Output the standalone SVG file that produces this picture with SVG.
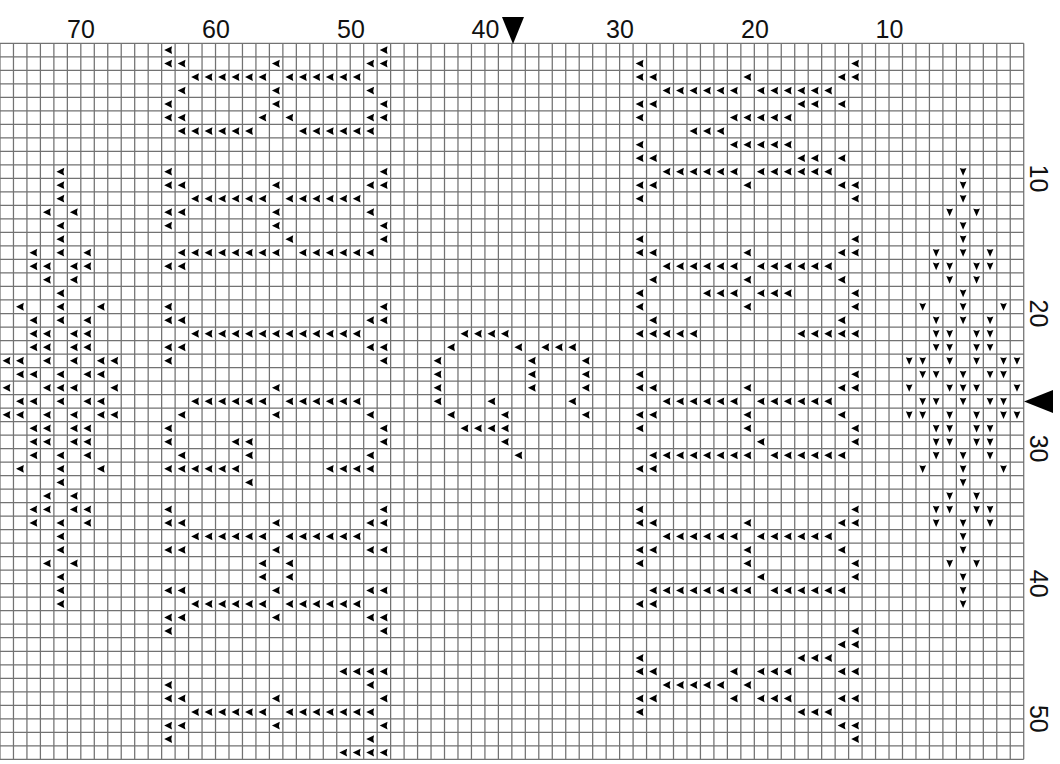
<svg xmlns="http://www.w3.org/2000/svg" xmlns:xlink="http://www.w3.org/1999/xlink" width="1060" height="764" viewBox="0 0 1060 764">
<style>
.lbl{font-family:"Liberation Sans",Arial,sans-serif;font-size:25px;fill:#111;text-anchor:middle}
.grid{fill:none;stroke:#727272;stroke-width:1.25}
.mk{fill:#000}
</style>
<defs>
<path id="L" d="M-0.31 0 L0.27 -0.29 Q0.16 0 0.27 0.29 Z" fill="#000"/>
<path id="D" d="M0 0.3 L-0.25 -0.27 Q0 -0.15 0.25 -0.27 Z" fill="#000"/>
<g id="R3"><use href="#L"/><use href="#L" x="1"/><use href="#L" x="2"/></g>
<g id="R4"><use href="#R3"/><use href="#L" x="3"/></g>
<g id="R5"><use href="#R4"/><use href="#L" x="4"/></g>
<g id="R6"><use href="#R5"/><use href="#L" x="5"/></g>
<g id="R7"><use href="#R6"/><use href="#L" x="6"/></g>
<g id="R8"><use href="#R7"/><use href="#L" x="7"/></g>
<g id="R13"><use href="#R6"/><use href="#R7" x="6"/></g>
</defs>
<rect width="1060" height="764" fill="#fff"/>
<g id="grid" transform="translate(0 43.3) scale(13.47 13.51)">
<path class="grid" vector-effect="non-scaling-stroke" d="M0 0V53M1 0V53M2 0V53M3 0V53M4 0V53M5 0V53M6 0V53M7 0V53M8 0V53M9 0V53M10 0V53M11 0V53M12 0V53M13 0V53M14 0V53M15 0V53M16 0V53M17 0V53M18 0V53M19 0V53M20 0V53M21 0V53M22 0V53M23 0V53M24 0V53M25 0V53M26 0V53M27 0V53M28 0V53M29 0V53M30 0V53M31 0V53M32 0V53M33 0V53M34 0V53M35 0V53M36 0V53M37 0V53M38 0V53M39 0V53M40 0V53M41 0V53M42 0V53M43 0V53M44 0V53M45 0V53M46 0V53M47 0V53M48 0V53M49 0V53M50 0V53M51 0V53M52 0V53M53 0V53M54 0V53M55 0V53M56 0V53M57 0V53M58 0V53M59 0V53M60 0V53M61 0V53M62 0V53M63 0V53M64 0V53M65 0V53M66 0V53M67 0V53M68 0V53M69 0V53M70 0V53M71 0V53M72 0V53M73 0V53M74 0V53M75 0V53M76 0V53M0 0H76M0 1H76M0 2H76M0 3H76M0 4H76M0 5H76M0 6H76M0 7H76M0 8H76M0 9H76M0 10H76M0 11H76M0 12H76M0 13H76M0 14H76M0 15H76M0 16H76M0 17H76M0 18H76M0 19H76M0 20H76M0 21H76M0 22H76M0 23H76M0 24H76M0 25H76M0 26H76M0 27H76M0 28H76M0 29H76M0 30H76M0 31H76M0 32H76M0 33H76M0 34H76M0 35H76M0 36H76M0 37H76M0 38H76M0 39H76M0 40H76M0 41H76M0 42H76M0 43H76M0 44H76M0 45H76M0 46H76M0 47H76M0 48H76M0 49H76M0 50H76M0 51H76M0 52H76M0 53H76"/>
</g>
<g id="labels">
<text class="lbl" x="81" y="38.3">70</text>
<text class="lbl" x="216" y="38.3">60</text>
<text class="lbl" x="351" y="38.3">50</text>
<text class="lbl" x="485.5" y="38.3">40</text>
<text class="lbl" x="620" y="38.3">30</text>
<text class="lbl" x="755" y="38.3">20</text>
<text class="lbl" x="889.5" y="38.3">10</text>
<text class="lbl" transform="translate(1030 178.4) rotate(90)">10</text>
<text class="lbl" transform="translate(1030 313.5) rotate(90)">20</text>
<text class="lbl" transform="translate(1030 448.6) rotate(90)">30</text>
<text class="lbl" transform="translate(1030 583.7) rotate(90)">40</text>
<text class="lbl" transform="translate(1030 718.8) rotate(90)">50</text>
</g>
<g id="markers">
<polygon class="mk" points="502,17 524,17 513,44"/>
<polygon class="mk" points="1024,401.5 1053,390 1053,413"/>
</g>
<g id="chart" transform="translate(6.735 50.055) scale(13.47 13.51)">
<g id="flake-left">
<use href="#L" x="4" y="9"/><use href="#L" x="4" y="10"/><use href="#L" x="4" y="11"/>
<use href="#L" x="3" y="12"/><use href="#L" x="5" y="12"/>
<use href="#L" x="4" y="13"/><use href="#L" x="4" y="14"/>
<use href="#L" x="2" y="15"/><use href="#L" x="4" y="15"/><use href="#L" x="6" y="15"/>
<use href="#L" x="2" y="16"/><use href="#L" x="3" y="16"/><use href="#L" x="5" y="16"/><use href="#L" x="6" y="16"/>
<use href="#L" x="3" y="17"/><use href="#L" x="5" y="17"/>
<use href="#L" x="4" y="18"/>
<use href="#L" x="1" y="19"/><use href="#L" x="4" y="19"/><use href="#L" x="7" y="19"/>
<use href="#L" x="2" y="20"/><use href="#L" x="4" y="20"/><use href="#L" x="6" y="20"/>
<use href="#L" x="2" y="21"/><use href="#L" x="3" y="21"/><use href="#L" x="5" y="21"/><use href="#L" x="6" y="21"/>
<use href="#L" x="2" y="22"/><use href="#L" x="3" y="22"/><use href="#L" x="5" y="22"/><use href="#L" x="6" y="22"/>
<use href="#L" x="0" y="23"/><use href="#L" x="1" y="23"/><use href="#L" x="3" y="23"/><use href="#L" x="5" y="23"/><use href="#L" x="7" y="23"/><use href="#L" x="8" y="23"/>
<use href="#L" x="1" y="24"/><use href="#L" x="2" y="24"/><use href="#L" x="4" y="24"/><use href="#L" x="6" y="24"/><use href="#L" x="7" y="24"/>
<use href="#L" x="0" y="25"/><use href="#L" x="3" y="25"/><use href="#L" x="4" y="25"/><use href="#L" x="5" y="25"/><use href="#L" x="8" y="25"/>
<use href="#L" x="1" y="26"/><use href="#L" x="2" y="26"/><use href="#L" x="4" y="26"/><use href="#L" x="6" y="26"/><use href="#L" x="7" y="26"/>
<use href="#L" x="0" y="27"/><use href="#L" x="1" y="27"/><use href="#L" x="3" y="27"/><use href="#L" x="5" y="27"/><use href="#L" x="7" y="27"/><use href="#L" x="8" y="27"/>
<use href="#L" x="2" y="28"/><use href="#L" x="3" y="28"/><use href="#L" x="5" y="28"/><use href="#L" x="6" y="28"/>
<use href="#L" x="2" y="29"/><use href="#L" x="3" y="29"/><use href="#L" x="5" y="29"/><use href="#L" x="6" y="29"/>
<use href="#L" x="2" y="30"/><use href="#L" x="4" y="30"/><use href="#L" x="6" y="30"/>
<use href="#L" x="1" y="31"/><use href="#L" x="4" y="31"/><use href="#L" x="7" y="31"/>
<use href="#L" x="4" y="32"/>
<use href="#L" x="3" y="33"/><use href="#L" x="5" y="33"/>
<use href="#L" x="2" y="34"/><use href="#L" x="3" y="34"/><use href="#L" x="5" y="34"/><use href="#L" x="6" y="34"/>
<use href="#L" x="2" y="35"/><use href="#L" x="4" y="35"/><use href="#L" x="6" y="35"/>
<use href="#L" x="4" y="36"/><use href="#L" x="4" y="37"/>
<use href="#L" x="3" y="38"/><use href="#L" x="5" y="38"/>
<use href="#L" x="4" y="39"/><use href="#L" x="4" y="40"/><use href="#L" x="4" y="41"/>
</g>
<g id="flake-right" transform="translate(67 0)">
<use href="#D" x="4" y="9"/><use href="#D" x="4" y="10"/><use href="#D" x="4" y="11"/>
<use href="#D" x="3" y="12"/><use href="#D" x="5" y="12"/>
<use href="#D" x="4" y="13"/><use href="#D" x="4" y="14"/>
<use href="#D" x="2" y="15"/><use href="#D" x="4" y="15"/><use href="#D" x="6" y="15"/>
<use href="#D" x="2" y="16"/><use href="#D" x="3" y="16"/><use href="#D" x="5" y="16"/><use href="#D" x="6" y="16"/>
<use href="#D" x="3" y="17"/><use href="#D" x="5" y="17"/>
<use href="#D" x="4" y="18"/>
<use href="#D" x="1" y="19"/><use href="#D" x="4" y="19"/><use href="#D" x="7" y="19"/>
<use href="#D" x="2" y="20"/><use href="#D" x="4" y="20"/><use href="#D" x="6" y="20"/>
<use href="#D" x="2" y="21"/><use href="#D" x="3" y="21"/><use href="#D" x="5" y="21"/><use href="#D" x="6" y="21"/>
<use href="#D" x="2" y="22"/><use href="#D" x="3" y="22"/><use href="#D" x="5" y="22"/><use href="#D" x="6" y="22"/>
<use href="#D" x="0" y="23"/><use href="#D" x="1" y="23"/><use href="#D" x="3" y="23"/><use href="#D" x="5" y="23"/><use href="#D" x="7" y="23"/><use href="#D" x="8" y="23"/>
<use href="#D" x="1" y="24"/><use href="#D" x="2" y="24"/><use href="#D" x="4" y="24"/><use href="#D" x="6" y="24"/><use href="#D" x="7" y="24"/>
<use href="#D" x="0" y="25"/><use href="#D" x="3" y="25"/><use href="#D" x="4" y="25"/><use href="#D" x="5" y="25"/><use href="#D" x="8" y="25"/>
<use href="#D" x="1" y="26"/><use href="#D" x="2" y="26"/><use href="#D" x="4" y="26"/><use href="#D" x="6" y="26"/><use href="#D" x="7" y="26"/>
<use href="#D" x="0" y="27"/><use href="#D" x="1" y="27"/><use href="#D" x="3" y="27"/><use href="#D" x="5" y="27"/><use href="#D" x="7" y="27"/><use href="#D" x="8" y="27"/>
<use href="#D" x="2" y="28"/><use href="#D" x="3" y="28"/><use href="#D" x="5" y="28"/><use href="#D" x="6" y="28"/>
<use href="#D" x="2" y="29"/><use href="#D" x="3" y="29"/><use href="#D" x="5" y="29"/><use href="#D" x="6" y="29"/>
<use href="#D" x="2" y="30"/><use href="#D" x="4" y="30"/><use href="#D" x="6" y="30"/>
<use href="#D" x="1" y="31"/><use href="#D" x="4" y="31"/><use href="#D" x="7" y="31"/>
<use href="#D" x="4" y="32"/>
<use href="#D" x="3" y="33"/><use href="#D" x="5" y="33"/>
<use href="#D" x="2" y="34"/><use href="#D" x="3" y="34"/><use href="#D" x="5" y="34"/><use href="#D" x="6" y="34"/>
<use href="#D" x="2" y="35"/><use href="#D" x="4" y="35"/><use href="#D" x="6" y="35"/>
<use href="#D" x="4" y="36"/><use href="#D" x="4" y="37"/>
<use href="#D" x="3" y="38"/><use href="#D" x="5" y="38"/>
<use href="#D" x="4" y="39"/><use href="#D" x="4" y="40"/><use href="#D" x="4" y="41"/>
</g>
<g id="block-left">
<use href="#L" x="12" y="0"/><use href="#L" x="28" y="0"/>
<use href="#L" x="12" y="1"/><use href="#L" x="13" y="1"/><use href="#L" x="20" y="1"/><use href="#L" x="27" y="1"/><use href="#L" x="28" y="1"/>
<use href="#R6" x="14" y="2"/><use href="#R6" x="21" y="2"/>
<use href="#L" x="13" y="3"/><use href="#L" x="20" y="3"/><use href="#L" x="27" y="3"/>
<use href="#L" x="12" y="4"/><use href="#L" x="20" y="4"/><use href="#L" x="28" y="4"/>
<use href="#L" x="12" y="5"/><use href="#L" x="13" y="5"/><use href="#L" x="19" y="5"/><use href="#L" x="21" y="5"/><use href="#L" x="27" y="5"/><use href="#L" x="28" y="5"/>
<use href="#R6" x="13" y="6"/><use href="#R6" x="22" y="6"/>
<use href="#L" x="12" y="9"/><use href="#L" x="28" y="9"/>
<use href="#L" x="12" y="10"/><use href="#L" x="13" y="10"/><use href="#L" x="20" y="10"/><use href="#L" x="27" y="10"/><use href="#L" x="28" y="10"/>
<use href="#R6" x="14" y="11"/><use href="#R6" x="21" y="11"/>
<use href="#L" x="12" y="12"/><use href="#L" x="13" y="12"/><use href="#L" x="20" y="12"/><use href="#L" x="27" y="12"/>
<use href="#L" x="12" y="13"/><use href="#L" x="20" y="13"/><use href="#L" x="28" y="13"/>
<use href="#L" x="21" y="14"/><use href="#L" x="28" y="14"/>
<use href="#R8" x="13" y="15"/><use href="#R6" x="22" y="15"/>
<use href="#L" x="12" y="16"/><use href="#L" x="13" y="16"/>
<use href="#L" x="12" y="19"/><use href="#L" x="28" y="19"/>
<use href="#L" x="12" y="20"/><use href="#L" x="13" y="20"/><use href="#L" x="27" y="20"/><use href="#L" x="28" y="20"/>
<use href="#R13" x="14" y="21"/>
<use href="#L" x="12" y="22"/><use href="#L" x="13" y="22"/><use href="#L" x="27" y="22"/><use href="#L" x="28" y="22"/>
<use href="#L" x="12" y="23"/><use href="#L" x="28" y="23"/>
<use href="#L" x="20" y="25"/>
<use href="#R6" x="14" y="26"/><use href="#R6" x="21" y="26"/>
<use href="#L" x="13" y="27"/><use href="#L" x="20" y="27"/><use href="#L" x="27" y="27"/>
<use href="#L" x="12" y="28"/><use href="#L" x="28" y="28"/>
<use href="#L" x="12" y="29"/><use href="#L" x="17" y="29"/><use href="#L" x="18" y="29"/><use href="#L" x="28" y="29"/>
<use href="#L" x="13" y="30"/><use href="#L" x="18" y="30"/><use href="#L" x="27" y="30"/>
<use href="#R6" x="12" y="31"/><use href="#R4" x="24" y="31"/>
<use href="#L" x="18" y="32"/>
<use href="#L" x="12" y="34"/><use href="#L" x="28" y="34"/>
<use href="#L" x="12" y="35"/><use href="#L" x="13" y="35"/><use href="#L" x="20" y="35"/><use href="#L" x="27" y="35"/><use href="#L" x="28" y="35"/>
<use href="#R6" x="14" y="36"/><use href="#R6" x="21" y="36"/>
<use href="#L" x="12" y="37"/><use href="#L" x="13" y="37"/><use href="#L" x="20" y="37"/><use href="#L" x="27" y="37"/><use href="#L" x="28" y="37"/>
<use href="#L" x="19" y="38"/><use href="#L" x="21" y="38"/>
<use href="#L" x="19" y="39"/><use href="#L" x="21" y="39"/>
<use href="#L" x="12" y="40"/><use href="#L" x="13" y="40"/><use href="#L" x="20" y="40"/><use href="#L" x="27" y="40"/><use href="#L" x="28" y="40"/>
<use href="#R6" x="14" y="41"/><use href="#R6" x="21" y="41"/>
<use href="#L" x="12" y="42"/><use href="#L" x="13" y="42"/><use href="#L" x="20" y="42"/><use href="#L" x="27" y="42"/><use href="#L" x="28" y="42"/>
<use href="#L" x="12" y="43"/><use href="#L" x="28" y="43"/>
<use href="#R4" x="25" y="46"/>
<use href="#L" x="12" y="47"/><use href="#L" x="27" y="47"/>
<use href="#L" x="12" y="48"/><use href="#L" x="13" y="48"/><use href="#L" x="20" y="48"/><use href="#L" x="28" y="48"/>
<use href="#R6" x="14" y="49"/><use href="#R7" x="21" y="49"/>
<use href="#L" x="12" y="50"/><use href="#L" x="13" y="50"/><use href="#L" x="20" y="50"/><use href="#L" x="28" y="50"/>
<use href="#L" x="12" y="51"/><use href="#L" x="27" y="51"/>
<use href="#R4" x="25" y="52"/>
</g>
<g id="motif-middle">
<use href="#R4" x="34" y="21"/>
<use href="#L" x="33" y="22"/><use href="#L" x="38" y="22"/><use href="#R3" x="40" y="22"/>
<use href="#L" x="32" y="23"/><use href="#L" x="39" y="23"/><use href="#L" x="43" y="23"/>
<use href="#L" x="32" y="24"/><use href="#L" x="39" y="24"/><use href="#L" x="43" y="24"/>
<use href="#L" x="32" y="25"/><use href="#L" x="39" y="25"/><use href="#L" x="43" y="25"/>
<use href="#L" x="32" y="26"/><use href="#L" x="36" y="26"/><use href="#L" x="42" y="26"/>
<use href="#L" x="33" y="27"/><use href="#L" x="37" y="27"/><use href="#L" x="43" y="27"/>
<use href="#R4" x="34" y="28"/>
<use href="#L" x="37" y="29"/>
<use href="#L" x="38" y="30"/>
</g>
<g id="block-right">
<use href="#L" x="47" y="1"/><use href="#L" x="63" y="1"/>
<use href="#L" x="47" y="2"/><use href="#L" x="48" y="2"/><use href="#L" x="55" y="2"/><use href="#L" x="62" y="2"/><use href="#L" x="63" y="2"/>
<use href="#R6" x="49" y="3"/><use href="#R6" x="56" y="3"/>
<use href="#L" x="47" y="4"/><use href="#L" x="48" y="4"/><use href="#L" x="59" y="4"/><use href="#L" x="60" y="4"/><use href="#L" x="62" y="4"/>
<use href="#L" x="47" y="5"/><use href="#R5" x="54" y="5"/>
<use href="#R3" x="51" y="6"/>
<use href="#L" x="47" y="7"/><use href="#R5" x="54" y="7"/>
<use href="#L" x="47" y="8"/><use href="#L" x="48" y="8"/><use href="#L" x="59" y="8"/><use href="#L" x="60" y="8"/><use href="#L" x="62" y="8"/>
<use href="#R6" x="49" y="9"/><use href="#R6" x="56" y="9"/>
<use href="#L" x="47" y="10"/><use href="#L" x="48" y="10"/><use href="#L" x="55" y="10"/><use href="#L" x="62" y="10"/><use href="#L" x="63" y="10"/>
<use href="#L" x="47" y="11"/><use href="#L" x="63" y="11"/>
<use href="#L" x="47" y="14"/><use href="#L" x="63" y="14"/>
<use href="#L" x="47" y="15"/><use href="#L" x="48" y="15"/><use href="#L" x="55" y="15"/><use href="#L" x="62" y="15"/><use href="#L" x="63" y="15"/>
<use href="#R6" x="49" y="16"/><use href="#R6" x="56" y="16"/>
<use href="#L" x="48" y="17"/><use href="#L" x="55" y="17"/><use href="#L" x="62" y="17"/>
<use href="#L" x="47" y="18"/><use href="#R3" x="52" y="18"/><use href="#R3" x="56" y="18"/><use href="#L" x="63" y="18"/>
<use href="#L" x="47" y="19"/><use href="#L" x="55" y="19"/><use href="#L" x="63" y="19"/>
<use href="#L" x="48" y="20"/><use href="#L" x="62" y="20"/>
<use href="#R5" x="47" y="21"/><use href="#R5" x="59" y="21"/>
<use href="#L" x="47" y="24"/><use href="#L" x="63" y="24"/>
<use href="#L" x="47" y="25"/><use href="#L" x="48" y="25"/><use href="#L" x="55" y="25"/><use href="#L" x="62" y="25"/><use href="#L" x="63" y="25"/>
<use href="#R6" x="49" y="26"/><use href="#R6" x="56" y="26"/>
<use href="#L" x="47" y="27"/><use href="#L" x="48" y="27"/><use href="#L" x="55" y="27"/><use href="#L" x="62" y="27"/>
<use href="#L" x="47" y="28"/><use href="#L" x="55" y="28"/><use href="#L" x="63" y="28"/>
<use href="#L" x="56" y="29"/><use href="#L" x="63" y="29"/>
<use href="#R8" x="48" y="30"/><use href="#R6" x="57" y="30"/>
<use href="#L" x="47" y="31"/><use href="#L" x="48" y="31"/>
<use href="#L" x="47" y="34"/><use href="#L" x="63" y="34"/>
<use href="#L" x="47" y="35"/><use href="#L" x="48" y="35"/><use href="#L" x="55" y="35"/><use href="#L" x="62" y="35"/><use href="#L" x="63" y="35"/>
<use href="#R6" x="49" y="36"/><use href="#R6" x="56" y="36"/>
<use href="#L" x="47" y="37"/><use href="#L" x="48" y="37"/><use href="#L" x="55" y="37"/><use href="#L" x="62" y="37"/>
<use href="#L" x="47" y="38"/><use href="#L" x="55" y="38"/><use href="#L" x="63" y="38"/>
<use href="#L" x="56" y="39"/><use href="#L" x="63" y="39"/>
<use href="#R8" x="48" y="40"/><use href="#R6" x="57" y="40"/>
<use href="#L" x="47" y="41"/><use href="#L" x="48" y="41"/>
<use href="#L" x="63" y="43"/>
<use href="#L" x="62" y="44"/><use href="#L" x="63" y="44"/>
<use href="#L" x="47" y="45"/><use href="#R3" x="59" y="45"/>
<use href="#L" x="47" y="46"/><use href="#L" x="48" y="46"/><use href="#L" x="54" y="46"/><use href="#R3" x="56" y="46"/><use href="#L" x="62" y="46"/><use href="#L" x="63" y="46"/>
<use href="#R5" x="49" y="47"/><use href="#L" x="55" y="47"/>
<use href="#L" x="47" y="48"/><use href="#L" x="48" y="48"/><use href="#L" x="54" y="48"/><use href="#R3" x="56" y="48"/><use href="#L" x="62" y="48"/><use href="#L" x="63" y="48"/>
<use href="#L" x="47" y="49"/><use href="#R3" x="59" y="49"/>
<use href="#L" x="62" y="50"/><use href="#L" x="63" y="50"/>
<use href="#L" x="63" y="51"/>
</g>
</g>
</svg>
